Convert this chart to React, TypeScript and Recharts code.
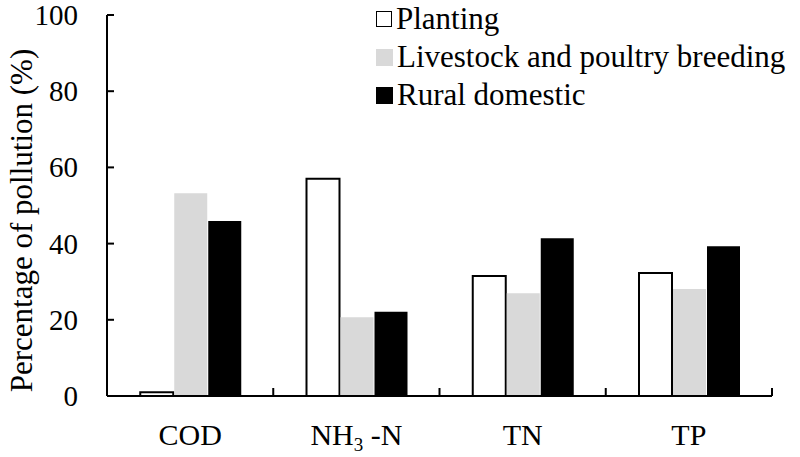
import React from 'react'
import { BarChart, Bar, XAxis, YAxis, Legend } from 'recharts'

const categories = ['COD', 'NH3-N', 'TN', 'TP']
const planting = [1, 57, 31.5, 32.3]
const livestock = [53.2, 20.7, 27, 28.1]
const rural = [45.9, 22.1, 41.4, 39.3]
const yTicks = [0, 20, 40, 60, 80, 100]

const SERIES = [
  { key: 'planting', name: 'Planting', fill: '#ffffff', stroke: '#000000' },
  { key: 'livestock', name: 'Livestock and poultry breeding', fill: '#d9d9d9', stroke: 'none' },
  { key: 'rural', name: 'Rural domestic', fill: '#000000', stroke: 'none' }
]

const data = categories.map((c, i) => ({
  name: c,
  planting: planting[i],
  livestock: livestock[i],
  rural: rural[i]
}))

const W = 800
const H = 457
const M = { top: 15, right: 28, left: 0, bottom: 0 }
const Y_W = 107
const X_H = 61
const BAND = (W - M.left - M.right - Y_W) / categories.length
const FONT = "'Liberation Serif', 'Times New Roman', Tinos, 'DejaVu Serif', serif"

const YTick = (props: any) => {
  const { x, y, payload } = props
  return (
    <g>
      <line x1={x + 29} x2={x + 36} y1={y} y2={y} stroke="#000" strokeWidth={2} />
      <text x={x} y={y} dy={10} textAnchor="end" fontSize={29} style={{ fontFamily: FONT }} fill="#000">
        {payload.value}
      </text>
    </g>
  )
}

const XTick = (props: any) => {
  const { x, y, payload } = props
  const edge = x + BAND / 2
  const label = payload.value === 'NH3-N' ? (
    <>
      NH<tspan fontSize={19} dy={6}>3</tspan>
      <tspan dy={-6}> -N</tspan>
    </>
  ) : payload.value
  return (
    <g>
      <line x1={edge} x2={edge} y1={y} y2={y - 8} stroke="#000" strokeWidth={2} />
      <text x={x} y={y + 49} textAnchor="middle" fontSize={30} style={{ fontFamily: FONT }} fill="#000">
        {label}
      </text>
    </g>
  )
}

const YLabel = (props: any) => {
  const { viewBox } = props
  const cx = viewBox.x + 21
  const cy = viewBox.y + viewBox.height / 2 + 15
  return (
    <text
      x={cx}
      y={cy}
      transform={`rotate(-90, ${cx}, ${cy})`}
      textAnchor="middle"
      dominantBaseline="central"
      fontSize={31}
      style={{ fontFamily: FONT }}
      fill="#000"
    >
      Percentage of pollution (%)
    </text>
  )
}

const LegendBox = () => (
  <div style={{ fontFamily: FONT, fontSize: 31, color: '#000' }}>
    {SERIES.map((s) => (
      <div key={s.key} style={{ display: 'flex', alignItems: 'center', height: 38 }}>
        <span
          style={{
            display: 'inline-block',
            width: s.stroke === 'none' ? 17 : 14,
            height: s.stroke === 'none' ? 17 : 14,
            background: s.fill,
            border: s.stroke === 'none' ? 'none' : '1.5px solid #000',
            marginRight: 4
          }}
        />
        <span>{s.name}</span>
      </div>
    ))}
  </div>
)

export default function App() {
  return (
    <div style={{ position: 'absolute', left: 0, top: 0, background: '#fff' }}>
      <BarChart width={W} height={H} data={data} margin={M} barCategoryGap="20%" barGap={1}>
        <XAxis
          dataKey="name"
          height={X_H}
          tick={<XTick />}
          tickLine={false}
          tickSize={0}
          tickMargin={0}
          axisLine={{ stroke: '#000', strokeWidth: 2 }}
          interval={0}
        />
        <YAxis
          width={Y_W}
          domain={[0, 100]}
          ticks={yTicks}
          tick={<YTick />}
          tickLine={false}
          tickSize={0}
          tickMargin={29}
          axisLine={{ stroke: '#000', strokeWidth: 2 }}
          label={<YLabel />}
        />
        <Legend
          layout="horizontal"
          verticalAlign="middle"
          align="center"
          content={<LegendBox />}
          wrapperStyle={{ top: 0, left: 376, width: 424, height: 120 }}
        />
        {SERIES.map((s) => (
          <Bar
            key={s.key}
            dataKey={s.key}
            name={s.name}
            fill={s.fill}
            stroke={s.stroke}
            strokeWidth={s.stroke === 'none' ? 0 : 2}
            isAnimationActive={false}
          />
        ))}
      </BarChart>
    </div>
  )
}
